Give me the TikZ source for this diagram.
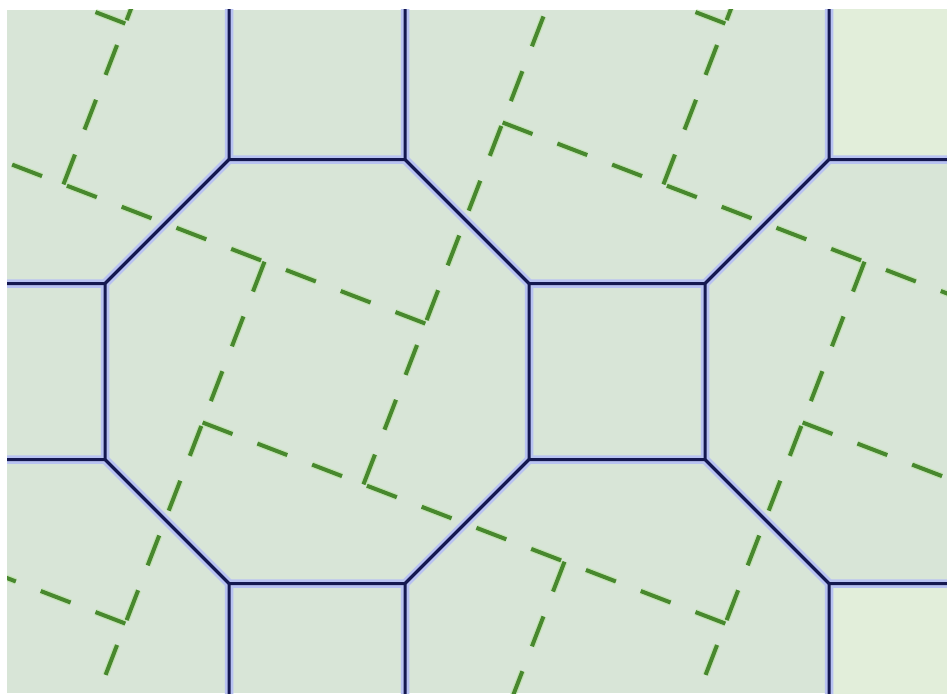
\documentclass[tikz,border=0pt]{standalone}
\usetikzlibrary{calc}
\definecolor{tilebg}{RGB}{216,229,215}
\definecolor{tilelight}{RGB}{226,238,218}
\definecolor{edgec}{RGB}{20,24,80}
\definecolor{haloc}{RGB}{184,194,242}
\definecolor{pythc}{RGB}{72,136,46}
\definecolor{pythglow}{RGB}{172,226,140}
\tikzset{
  octhalo/.style={draw=haloc, line width=8.5pt, line join=miter},
  octedge/.style={draw=edgec, line width=3pt, line join=miter},
  pyth/.style={draw=pythc, line width=4pt, dash pattern=on 32pt off 26.67pt,
               preaction={draw=pythglow, line width=6.5pt, opacity=.45,
                          dash pattern=on 32pt off 26.67pt}},
}

\begin{document}
\begin{tikzpicture}[x=1pt, y=-1pt]

% ---------------------------------------------------------------- frame
\useasboundingbox (0,0) rectangle (947,693);
\fill[white] (0,0) rectangle (947,693);

\begin{scope}
\clip (7,10) rectangle (947,693);
\fill[tilebg] (7,10) rectangle (947,693);

% lighter squares on the right
\fill[tilelight] (829,-16.5) rectangle (1005,159.5);
\fill[tilelight] (829,583.5) rectangle (1005,759.5);

% ---------------------------------------------------------------- pythagorean overlay
% lattice (300,300) and (-300,300); big side a, small side b (9:4)
\coordinate (P) at (264.5,261.7);
\foreach \m in {-3,...,3} {
  \foreach \n in {-3,...,3} {
    \draw[pyth] ($(P)+({300*(\m-\n)},{300*(\m+\n)})+(-361.86,-139.18)$)
      -- ++(522.68,201.04);
    \draw[pyth] ($(P)+({300*(\m-\n)},{300*(\m+\n)})+(300,-300)$)
      -- ++(-201.04,522.68);
  }
}

% ---------------------------------------------------------------- octagons
\foreach \st in {octhalo,octedge} {
  \foreach \x/\y in {17/71.5, 17/671.5, 317/371.5, 617/71.5, 617/671.5, 917/371.5} {
    \draw[\st, shift={(\x,\y)}] (88,-212) -- (212,-88) -- (212,88) -- (88,212)
      -- (-88,212) -- (-212,88) -- (-212,-88) -- (-88,-212) -- cycle;
  }
}
\end{scope}

\end{tikzpicture}
\end{document}
